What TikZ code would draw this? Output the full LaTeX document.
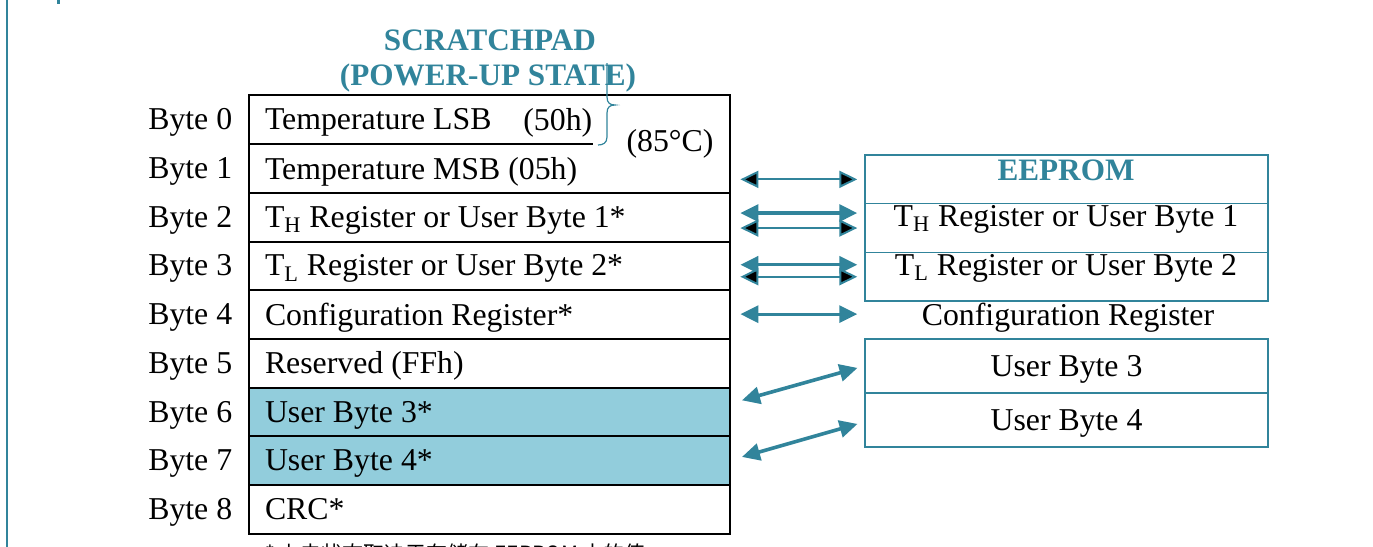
\documentclass[tikz,border=0pt]{standalone}
\usepackage{fontspec}
\setmainfont{Liberation Serif}
\newfontfamily\cjk{Noto Sans CJK SC}
\usepackage{xcolor}
\usetikzlibrary{arrows.meta,positioning}
\definecolor{dsteal}{HTML}{31849B}
\definecolor{dsfill}{HTML}{92CDDC}

\tikzset{
  sprow/.style={rectangle, inner xsep=8pt, inner ysep=0pt, minimum height=24.35pt,
    text width=224.5pt, align=flush left},
  bytelbl/.style={inner sep=0pt},
  eebox/.style={draw=dsteal, line width=0.75pt, rectangle, minimum width=201.5pt, inner sep=0pt},
  title/.style={text=dsteal, font=\fontsize{15.6}{18}\selectfont\bfseries},
  link/.style={dsteal, line width=1.6pt,
    {Triangle[length=9pt,width=8.5pt]}-{Triangle[length=9pt,width=8.5pt]}},
  linkb/.style={dsteal, line width=1pt,
    {Triangle[length=9pt,width=8.5pt,fill=black]}-{Triangle[length=9pt,width=8.5pt,fill=black]}},
}

\begin{document}
\begin{tikzpicture}[x=0.5pt,y=-0.5pt, font=\fontsize{15.9}{18}\selectfont,
  every node/.append style={text depth=0pt}]
\useasboundingbox (0,0) rectangle (1373,547);
\clip (0,0) rectangle (1373,547);

% cornice a sinistra
\draw[dsteal, line width=1pt] (7,0) -- (7,547);
\draw[dsteal, line width=1.5pt] (58,0) -- (58,4);

% titoli
\node[title] (sptitle) at (490,40) {SCRATCHPAD};
\node[title] (spstate) at (488,75) {(POWER-UP STATE)};

% righe dello scratchpad
\node[sprow] (sp0) at (489.5,119.35) {Temperature LSB};
\node[sprow] (sp1) at (489.5,168.05) {Temperature MSB (05h)};
\node[sprow] (sp2) at (489.5,216.75) {T\textsubscript{H} Register or User Byte 1*};
\node[sprow] (sp3) at (489.5,265.45) {T\textsubscript{L} Register or User Byte 2*};
\node[sprow] (sp4) at (489.5,314.15) {Configuration Register*};
\node[sprow] (sp5) at (489.5,362.85) {Reserved (FFh)};
\node[sprow, fill=dsfill] (sp6) at (489.5,411.55) {User Byte 3*};
\node[sprow, fill=dsfill] (sp7) at (489.5,460.25) {User Byte 4*};
\node[sprow] (sp8) at (489.5,508.95) {CRC*};
\node[bytelbl, anchor=west] (lsb) at (523,119.35) {(50h)};
\node (deg) at (670,140) {(85\textdegree C)};

% numeri dei byte
\foreach \i in {0,...,8}
  \node[bytelbl, left=8pt of sp\i] (b\i) {Byte \i};

% cornice e linee della tabella
\draw[line width=1pt] (sp0.north west) rectangle (sp8.south east);
\draw[line width=1pt] (sp0.south west) -- ++(344,0);
\foreach \i in {1,...,7}
  \draw[line width=1pt] (sp\i.south west) -- (sp\i.south east);

% graffa
\draw[dsteal, line width=0.6pt] (607,63) -- (607,97)
  .. controls (607,103) and (610,105) .. (615,105)
  .. controls (610,105) and (607,107) .. (607,113) -- (607,137)
  .. controls (607,143) and (603,145) .. (598,145);

% EEPROM
\node[eebox, minimum height=24.35pt] (ee1) at (1066.5,179.35) {};
\node[eebox, minimum height=24.35pt] (ee2) at (1066.5,228.05) {};
\node[eebox, minimum height=24.35pt] (ee3) at (1066.5,276.75) {};
\node[title] (eetitle) at (1066,170) {EEPROM};
\node (eeth) at (1066,216) {T\textsubscript{H} Register or User Byte 1};
\node (eetl) at (1066,265) {T\textsubscript{L} Register or User Byte 2};
\node (ee4) at (1068,314) {Configuration Register};
\node[eebox, minimum height=27pt] (ee5) at (1066.5,366) {User Byte 3};
\node[eebox, minimum height=27pt] (ee6) at (1066.5,420) {User Byte 4};

% frecce
\draw[linkb, shorten <=5pt, shorten >=3.5pt] (sp1.east |- ee1.west) -- (ee1.west);
\draw[link, shorten <=5pt, shorten >=3.5pt] ([yshift=7.5pt]sp2.east |- ee2.west) -- ([yshift=7.5pt]ee2.west);
\draw[linkb, shorten <=5pt, shorten >=3.5pt] (sp2.east |- ee2.west) -- (ee2.west);
\draw[link, shorten <=5pt, shorten >=3.5pt] ([yshift=6pt]sp3.east |- ee3.west) -- ([yshift=6pt]ee3.west);
\draw[linkb, shorten <=5pt, shorten >=3.5pt] (sp3.east |- ee3.west) -- (ee3.west);
\draw[link, shorten <=5pt, shorten >=3.5pt] (sp4.east) -- (ee1.west |- sp4.east);
\draw[link, line width=1.8pt, shorten <=6pt, shorten >=3.5pt] ([yshift=4pt]sp6.east) -- (ee5.west);
\draw[link, line width=1.8pt, shorten <=6pt, shorten >=3.5pt] (sp7.east) -- ([yshift=-1pt]ee6.west);

% nota
\node[anchor=west, font=\cjk\fontsize{10.5}{12}\selectfont] (note) at (258,553)
  {* 上电状态取决于存储在 EEPROM 中的值};
\end{tikzpicture}
\end{document}
